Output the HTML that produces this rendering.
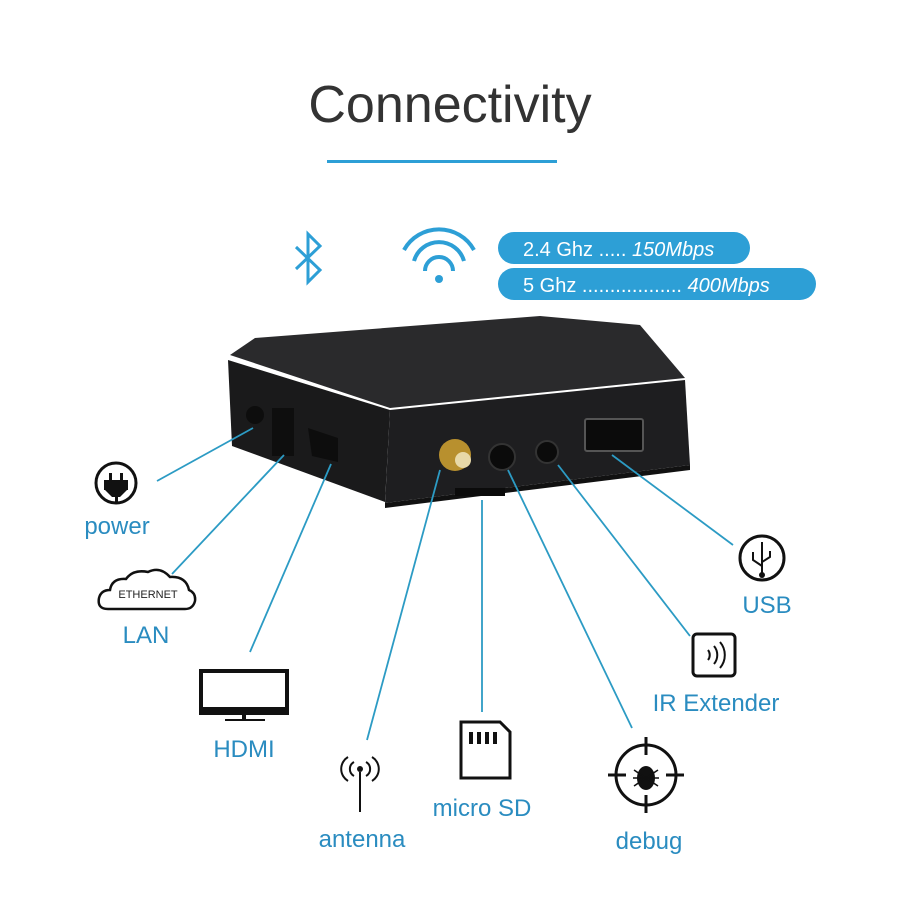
<!DOCTYPE html>
<html><head><style>
body{margin:0;background:#fff;}
svg{display:block}
text{font-family:"Liberation Sans",sans-serif}
</style></head><body>
<svg width="900" height="900" viewBox="0 0 900 900" xmlns="http://www.w3.org/2000/svg">
<rect width="900" height="900" fill="#fff"/>
<text x="450" y="122" text-anchor="middle" font-size="52" fill="#333">Connectivity</text>
<rect x="327" y="160" width="230" height="3" fill="#2d9fd6"/>
<!-- bluetooth -->
<path d="M296 247 L320 270 L308 282 L308 234 L320 246 L296 269" fill="none" stroke="#2d9fd6" stroke-width="3"/>
<!-- wifi -->
<g fill="none" stroke="#2d9fd6" stroke-width="4">
<path d="M404 250 A40 40 0 0 1 474 250"/>
<path d="M414 261 A26 26 0 0 1 464 261"/>
<path d="M425 271 A12 12 0 0 1 453 271"/>
</g>
<circle cx="439" cy="279" r="4" fill="#2d9fd6"/>
<rect x="498" y="232" width="252" height="32" rx="16" fill="#2d9fd6"/>
<rect x="498" y="268" width="318" height="32" rx="16" fill="#2d9fd6"/>
<text x="523" y="256" font-size="20" fill="#fff">2.4 Ghz ..... <tspan font-style="italic">150Mbps</tspan></text>
<text x="523" y="292" font-size="20" fill="#fff">5 Ghz .................. <tspan font-style="italic">400Mbps</tspan></text>
<!-- box -->
<polygon points="230,355 255,338 540,316 640,325 685,378 390,408" fill="#2a2a2c"/>
<polygon points="228,360 390,410 385,502 232,446" fill="#1a1a1b"/>
<polygon points="390,410 685,380 690,465 385,503" fill="#1e1e20"/>
<polygon points="385,503 690,465 690,470 385,508" fill="#111"/>
<circle cx="255" cy="415" r="9" fill="#0d0d0d"/>
<rect x="272" y="408" width="22" height="48" fill="#0e0e0e"/>
<polygon points="308,428 338,438 338,462 312,456" fill="#0d0d0d"/>
<circle cx="455" cy="455" r="16" fill="#b8902e"/>
<circle cx="463" cy="460" r="8" fill="#e8d9a8"/>
<circle cx="502" cy="457" r="13" fill="#0b0b0b" stroke="#333" stroke-width="2"/>
<circle cx="547" cy="452" r="11" fill="#0b0b0b" stroke="#333" stroke-width="2"/>
<rect x="585" y="419" width="58" height="32" rx="2" fill="#0b0b0b" stroke="#555" stroke-width="2"/>
<rect x="455" y="488" width="50" height="8" fill="#0b0b0b"/>
<!-- connectors -->
<g stroke="#2c9bc4" stroke-width="1.8" fill="none">
<line x1="253" y1="428" x2="157" y2="481"/>
<line x1="284" y1="455" x2="172" y2="574"/>
<line x1="331" y1="464" x2="250" y2="652"/>
<line x1="440" y1="470" x2="367" y2="740"/>
<line x1="482" y1="500" x2="482" y2="712"/>
<line x1="508" y1="470" x2="632" y2="728"/>
<line x1="558" y1="465" x2="690" y2="636"/>
<line x1="612" y1="455" x2="733" y2="545"/>
</g>
<!-- power -->
<circle cx="116" cy="483" r="20" fill="none" stroke="#111" stroke-width="3"/>
<rect x="104" y="480" width="24" height="10" fill="#111"/><path d="M104 489 L128 489 L120 497 L112 497Z" fill="#111"/>
<rect x="109" y="473" width="3" height="8" fill="#111"/><rect x="120" y="473" width="3" height="8" fill="#111"/>
<rect x="115" y="497" width="3" height="5" fill="#111"/>
<text x="117" y="534" text-anchor="middle" font-size="24" fill="#2a8cc0">power</text>
<!-- cloud -->
<path d="M108 609 Q97 609 99 598 Q101 590 110 590 Q112 578 126 579 Q133 569 148 572 Q160 566 170 577 Q186 576 189 590 Q196 593 195 601 Q193 609 185 609 Z" fill="none" stroke="#111" stroke-width="2.5"/>
<text x="148" y="598" text-anchor="middle" font-size="11" fill="#222">ETHERNET</text>
<text x="146" y="643" text-anchor="middle" font-size="24" fill="#2a8cc0">LAN</text>
<!-- HDMI -->
<rect x="201" y="671" width="86" height="42" fill="none" stroke="#111" stroke-width="4"/>
<rect x="199" y="707" width="90" height="8" fill="#111"/>
<rect x="242" y="715" width="4" height="5" fill="#111"/><rect x="225" y="719" width="40" height="2" fill="#111"/>
<text x="244" y="757" text-anchor="middle" font-size="24" fill="#2a8cc0">HDMI</text>
<!-- antenna -->
<g stroke="#111" stroke-width="2" fill="none">
<line x1="360" y1="772" x2="360" y2="812"/>
<path d="M354 762 A8 8 0 0 0 354 776"/><path d="M366 762 A8 8 0 0 1 366 776"/>
<path d="M348 757 A14 14 0 0 0 348 781"/><path d="M372 757 A14 14 0 0 1 372 781"/>
</g>
<circle cx="360" cy="769" r="3" fill="#111"/>
<text x="362" y="847" text-anchor="middle" font-size="24" fill="#2a8cc0">antenna</text>
<!-- micro SD -->
<path d="M461 722 L500 722 L510 732 L510 778 L461 778 Z" fill="none" stroke="#111" stroke-width="3"/>
<g fill="#111"><rect x="469" y="732" width="4" height="12"/><rect x="477" y="732" width="4" height="12"/><rect x="485" y="732" width="4" height="12"/><rect x="493" y="732" width="4" height="12"/></g>
<text x="482" y="816" text-anchor="middle" font-size="24" fill="#2a8cc0">micro SD</text>
<!-- debug -->
<circle cx="646" cy="775" r="30" fill="none" stroke="#111" stroke-width="3"/>
<g stroke="#111" stroke-width="3"><line x1="646" y1="737" x2="646" y2="755"/><line x1="646" y1="795" x2="646" y2="813"/><line x1="608" y1="775" x2="626" y2="775"/><line x1="666" y1="775" x2="684" y2="775"/></g>
<ellipse cx="646" cy="778" rx="9" ry="12" fill="#111"/>
<g stroke="#111" stroke-width="1.5"><line x1="634" y1="770" x2="658" y2="786"/><line x1="658" y1="770" x2="634" y2="786"/><line x1="633" y1="778" x2="659" y2="778"/></g>
<text x="649" y="849" text-anchor="middle" font-size="24" fill="#2a8cc0">debug</text>
<!-- IR -->
<rect x="693" y="634" width="42" height="42" rx="4" fill="none" stroke="#111" stroke-width="3"/>
<g fill="none" stroke="#111" stroke-width="2"><path d="M708 650 A8 8 0 0 1 708 660"/><path d="M714 646 A14 14 0 0 1 714 664"/><path d="M720 642 A20 20 0 0 1 720 668"/></g>
<text x="716" y="711" text-anchor="middle" font-size="24" fill="#2a8cc0">IR Extender</text>
<!-- USB -->
<circle cx="762" cy="558" r="22" fill="none" stroke="#111" stroke-width="3"/>
<g stroke="#111" stroke-width="2" fill="none"><line x1="762" y1="542" x2="762" y2="574"/><path d="M762 566 L753 560 L753 552"/><path d="M762 562 L770 557 L770 551"/></g>
<circle cx="762" cy="575" r="3" fill="#111"/>
<text x="767" y="613" text-anchor="middle" font-size="24" fill="#2a8cc0">USB</text>
</svg>
</body></html>
